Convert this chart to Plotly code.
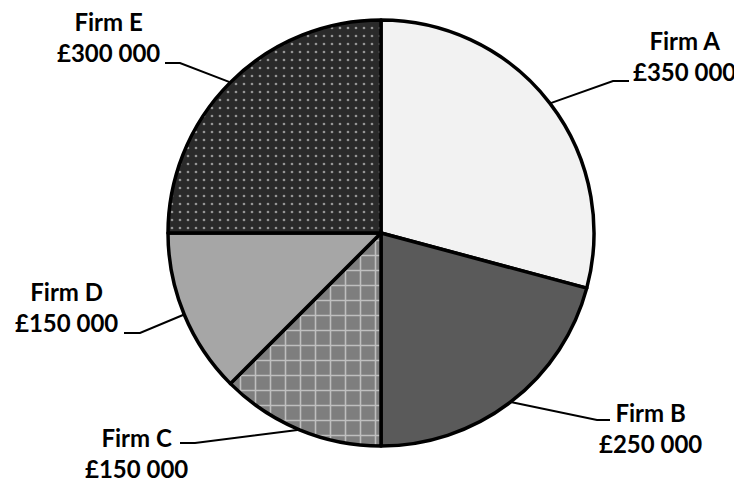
import math
import plotly.graph_objects as go

# ---- data ----
firms = ["Firm A", "Firm B", "Firm C", "Firm D", "Firm E"]
values = [350000, 250000, 150000, 150000, 300000]
value_labels = ["£350 000", "£250 000", "£150 000", "£150 000", "£300 000"]

# ---- styles ----
slice_colors = ["#f2f2f2", "#5a5a5a", "#7e7e7e", "#a6a6a6", "#2a2a2a"]
pattern_shapes = ["", "", "+", "", "."]
pattern_sizes = [10, 10, 15, 10, 8]
pattern_solidity = [0.2, 0.2, 0.2, 0.2, 0.09]

OFF = 8                      # page body margin of the html page
W, H = 742 - OFF, 487 - OFF  # figure size
CX, CY, R = 381, 233, 213    # pie centre / radius in window pixels

# label layout in window pixels: (elbow, end of leader, text centre)
label_layout = [
    ((613, 81), (629, 81), (684, 56)),
    ((597, 420), (610, 420), (650, 428)),
    ((195, 443), (180, 443), (136, 453)),
    ((140, 333), (124, 333), (66, 307)),
    ((180, 63), (165, 63), (108, 37)),
]

def px(x):
    return (x - OFF) / W

def py(y):
    return 1 - (y - OFF) / H

fig = go.Figure(go.Pie(
    labels=firms,
    values=values,
    sort=False,
    direction="clockwise",
    rotation=0,
    textinfo="none",
    hoverinfo="label+value",
    marker=dict(
        colors=slice_colors,
        line=dict(color="black", width=3.5),
        pattern=dict(
            shape=pattern_shapes,
            fillmode="overlay",
            fgcolor="white",
            size=pattern_sizes,
            solidity=pattern_solidity,
        ),
    ),
    domain=dict(x=[px(CX - 300), px(CX + 300)], y=[py(CY + R), py(CY - R)]),
    showlegend=False,
))

total = sum(values)
cum = 0
shapes = []
annotations = []
for i, v in enumerate(values):
    mid = (cum + v / 2) / total * 2 * math.pi
    cum += v
    ex = CX + R * math.sin(mid)
    ey = CY - R * math.cos(mid)
    (bx, by), (tx, ty), (lx, ly) = label_layout[i]
    shapes.append(dict(
        type="path", xref="paper", yref="paper",
        path=f"M {px(ex)} {py(ey)} L {px(bx)} {py(by)} L {px(tx)} {py(ty)}",
        line=dict(color="black", width=2),
    ))
    annotations.append(dict(
        x=px(lx), y=py(ly), xref="paper", yref="paper",
        text=f"{firms[i]}<br>{value_labels[i]}",
        showarrow=False, align="center",
        xanchor="center", yanchor="middle",
        font=dict(family="Lato", size=24, color="black", weight="bold"),
    ))

fig.update_layout(
    width=W, height=H,
    margin=dict(l=0, r=0, t=0, b=0),
    paper_bgcolor="white",
    plot_bgcolor="white",
    shapes=shapes,
    annotations=annotations,
)

fig.write_html("out.html")
